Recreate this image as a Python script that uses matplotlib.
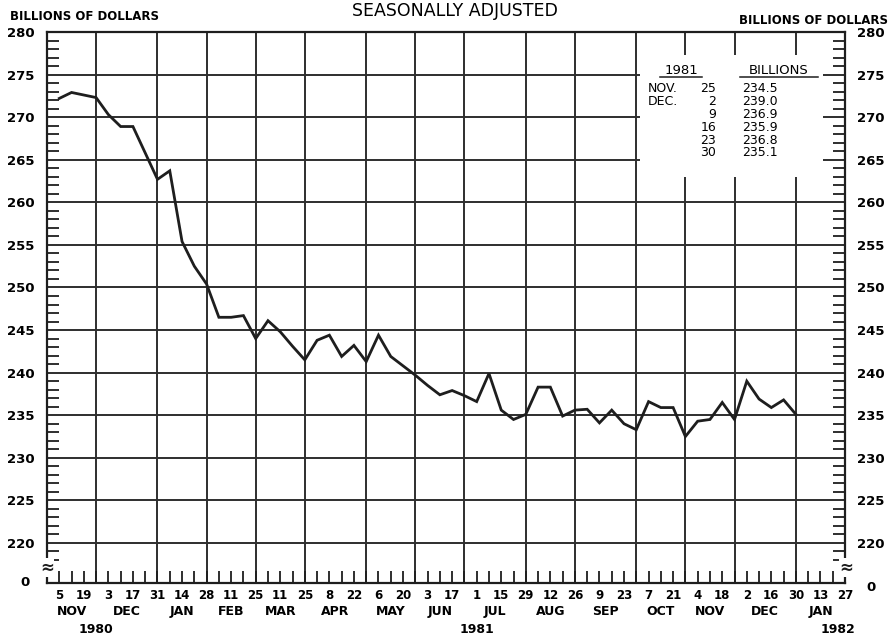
"""Weekly money stock, seasonally adjusted, Nov 1980 - Dec 1981."""

import pandas as pd
import matplotlib
matplotlib.use("Agg")
import matplotlib.pyplot as plt
import matplotlib.transforms as mtransforms
from matplotlib.patches import Rectangle
from matplotlib.lines import Line2D

# ---- data (billions of dollars, Wednesdays) ----
weeks = pd.date_range("1980-11-05", "1981-12-30", freq="7D")
values = [
    272.2, 272.9, 272.6, 272.3, 270.3, 268.9, 268.9, 265.8, 262.7, 263.7,
    255.4, 252.5, 250.4, 246.5, 246.5, 246.7, 244.0, 246.1, 244.8, 243.1,
    241.5, 243.8, 244.4, 241.9, 243.2, 241.3, 244.4, 241.9, 240.8, 239.7,
    238.5, 237.4, 237.9, 237.3, 236.6, 239.9, 235.6, 234.5, 235.1, 238.3,
    238.3, 234.9, 235.6, 235.7, 234.1, 235.6, 234.0, 233.3, 236.6, 235.9,
    235.9, 232.5, 234.3, 234.5, 236.5, 234.5, 239.0, 236.9, 235.9, 236.8,
    235.1,
]

axis_start, axis_end = "1980-10-29", "1982-01-27"
y_labels = [220, 225, 230, 235, 240, 245, 250, 255, 260, 265, 270, 275, 280]
y_floor = 215.3  # the broken "0" baseline

table_months = ["NOV.", "DEC.", "", "", "", ""]
table_days = ["25", "2", "9", "16", "23", "30"]
table_values = ["234.5", "239.0", "236.9", "235.9", "236.8", "235.1"]

year_labels = ["1980", "1981", "1982"]
year_dates = ["1980-11-26", "1981-07-01", "1982-01-23"]

W, H = 891, 638
INK = "#1e1e1e"
GRID = "#2e2e2e"

fig = plt.figure(figsize=(W / 100, H / 100), dpi=100)
fig.patch.set_facecolor("white")
ax = fig.add_axes([47 / W, 1 - 583 / H, (845 - 47) / W, (583 - 32) / H])

all_weeks = pd.date_range(axis_start, axis_end, freq="7D")
ax.set_xlim(all_weeks[0], all_weeks[-1])
ax.set_ylim(y_floor, 280)

# month boundaries: last Wednesday of each month
month_ends = [w for w in all_weeks if (w + pd.Timedelta(days=7)).month != w.month]
for d in month_ends:
    ax.axvline(d, color=GRID, lw=1.4, zorder=1)
for v in y_labels[:-1]:
    ax.axhline(v, color=GRID, lw=1.4, zorder=1)

# blank panel behind the little table
ax.add_patch(Rectangle((0.743, 0.737), 0.229, 0.221, transform=ax.transAxes,
                       fc="white", ec="none", zorder=1.5))

ax.plot(weeks, values, color=INK, lw=2.0, solid_joinstyle="miter", zorder=3)

for s in ax.spines.values():
    s.set_linewidth(1.6)
    s.set_color(INK)

# x ticks: weekly, labels every second week
labeled = all_weeks[1::2]
ax.set_xticks(labeled, labels=[str(d.day) for d in labeled])
ax.set_xticks(all_weeks[0::2], minor=True)
ax.tick_params(axis="x", which="both", direction="in", length=8.5, width=1.3,
               color=INK, pad=4, labelsize=8.5)
for lbl in ax.get_xticklabels():
    lbl.set_fontweight("bold")

# y ticks: labels on both sides, unit ticks inward
ax.set_yticks(y_labels, labels=[str(v) for v in y_labels])
ax.set_yticks([v for v in range(218, 280) if v % 5], minor=True)
ax.tick_params(axis="y", which="major", length=0, pad=8, labelsize=9.5,
               left=True, right=True, labelleft=True, labelright=True)
ax.tick_params(axis="y", which="minor", direction="in", length=8.5, width=1.3,
               color=INK, left=True, right=True)
ax.tick_params(axis="y", which="major", labelright=True, pad=9)
for lbl in ax.get_yticklabels(which="major"):
    lbl.set_fontweight("bold")

# zero baseline labels and break marks
yblend = mtransforms.blended_transform_factory(ax.transAxes, ax.transData)
ax.text(-0.028, y_floor, "0", transform=yblend, ha="center", va="center",
        fontsize=9.5, fontweight="bold", clip_on=False)
ax.text(1.032, y_floor - 0.5, "0", transform=yblend, ha="center", va="center",
        fontsize=9.5, fontweight="bold", clip_on=False)
for xa in (0.0, 1.002):
    ax.text(xa, 217.1, "≈", transform=yblend, ha="center", va="center",
            fontsize=12, fontweight="bold", color=INK, clip_on=False, zorder=5,
            bbox=dict(fc="white", ec="none", pad=0.3))

# month names and years under the axis
xblend = mtransforms.blended_transform_factory(ax.transData, ax.transAxes)
for a, b in zip(month_ends[:-1], month_ends[1:]):
    mid = a + (b - a) / 2
    ax.text(mid, -0.052, b.strftime("%b").upper(), transform=xblend,
            ha="center", va="center", fontsize=9, fontweight="bold")
for lab, d in zip(year_labels, year_dates):
    ax.text(pd.Timestamp(d), -0.085, lab, transform=xblend, ha="center",
            va="center", fontsize=9, fontweight="bold")

# titles
fig.text(455 / W, 1 - 11 / H, "SEASONALLY ADJUSTED", ha="center", va="center",
         fontsize=12.5)
fig.text(10 / W, 1 - 16 / H, "BILLIONS OF DOLLARS", ha="left", va="center",
         fontsize=8.5, fontweight="bold")
fig.text(888 / W, 1 - 20 / H, "BILLIONS OF DOLLARS", ha="right", va="center",
         fontsize=8.5, fontweight="bold")

# the small table
fig.text(681 / W, 1 - 70 / H, "1981", ha="center", va="center", fontsize=9.5)
fig.text(779 / W, 1 - 70 / H, "BILLIONS", ha="center", va="center", fontsize=9.5)
for x0, x1 in ((660, 702), (740, 818)):
    fig.add_artist(Line2D([x0 / W, x1 / W], [1 - 77 / H] * 2, color=INK, lw=1.1))
for k, (m, d, v) in enumerate(zip(table_months, table_days, table_values)):
    yy = 1 - (89 + 12.8 * k) / H
    fig.text(648 / W, yy, m, ha="left", va="center", fontsize=9)
    fig.text(716 / W, yy, d, ha="right", va="center", fontsize=9)
    fig.text(742 / W, yy, v, ha="left", va="center", fontsize=9)

fig.savefig("out.png", dpi=100)
